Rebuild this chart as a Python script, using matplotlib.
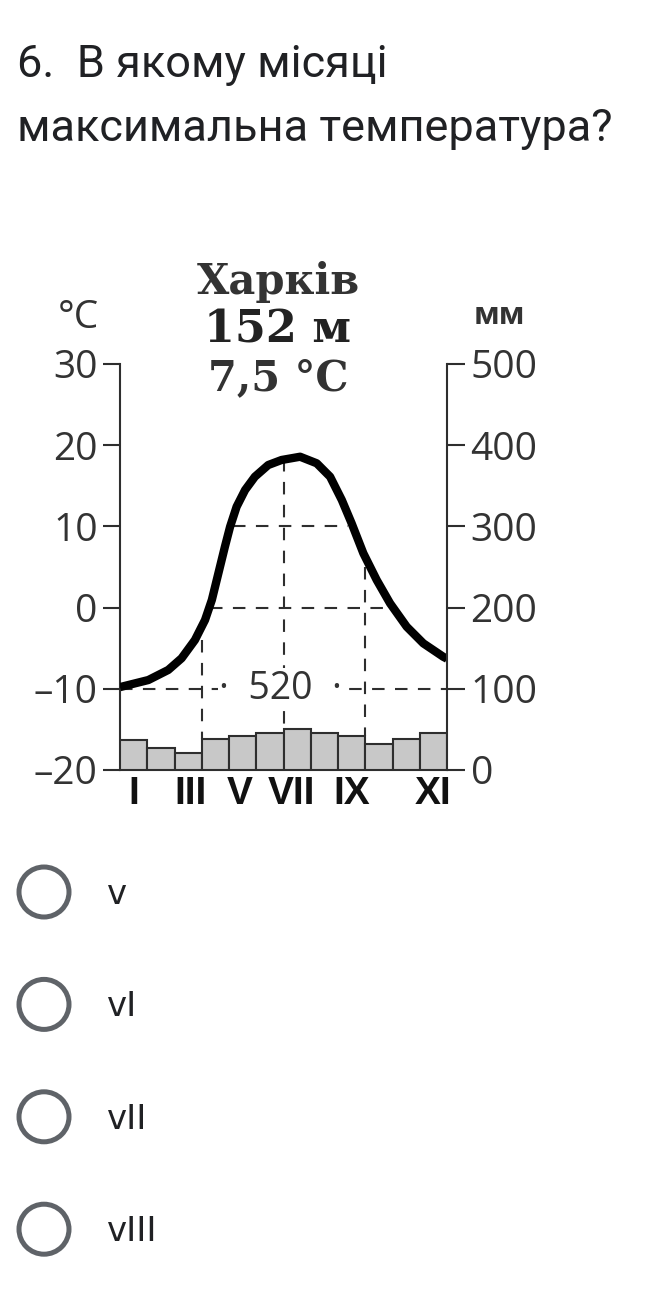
import matplotlib.pyplot as plt
from matplotlib.patches import Circle
import numpy as np

# monthly precipitation, mm
precip = [37, 27.5, 21, 38, 42, 45, 51, 45, 42, 32, 38, 45]

# temperature curve, points (x in months from start of Jan)
curve_month = [0.0, 0.06, 1.04, 1.77, 2.26, 2.75, 3.12, 3.37, 3.61, 3.85, 4.04,
               4.28, 4.59, 4.95, 5.44, 5.93, 6.61, 7.22, 7.71, 8.14, 8.50,
               8.93, 9.42, 9.91, 10.52, 11.13, 11.86, 12.0]
curve_temp = [-9.8, -9.74, -8.92, -7.68, -6.24, -3.99, -1.53, 0.94, 4.22, 7.5, 9.96,
              12.43, 14.48, 16.12, 17.56, 18.18, 18.58, 17.77, 16.12, 13.25, 10.38,
              6.69, 3.40, 0.53, -2.35, -4.40, -6.05, -6.3]

temp_ticks = [30, 20, 10, 0, -10, -20]
temp_labels = ['30', '20', '10', '0', '–10', '–20']
mm_ticks = [500, 400, 300, 200, 100, 0]
month_pos = [0.49, 2.6, 4.4, 6.3, 8.5, 11.5]
month_labels = ['I', 'III', 'V', 'VII', 'IX', 'XI']

station = 'Харків'
height_txt = '152 м'
mean_txt = '7,5 °C'
total_precip = '520'

question = ['6.  В якому місяці', 'максимальна температура?']
options = ['v', 'vI', 'vII', 'vIII']

plt.rcParams['font.family'] = ['Open Sans', 'DejaVu Sans']

W, H = 647, 1306
fig = plt.figure(figsize=(W / 100, H / 100), dpi=100)

# overlay in pixel coordinates for the page text
ov = fig.add_axes([0, 0, 1, 1])
ov.set_xlim(0, W)
ov.set_ylim(H, 0)
ov.axis('off')

ov.text(17, 77, question[0], fontsize=32.5, family='Roboto', color='#202124')
ov.text(17, 141, question[1], fontsize=32.5, family='Roboto', color='#202124')

for i, opt in enumerate(options):
    cy = 892 + i * 112.4
    ov.add_patch(Circle((44, cy), 25, fill=False, edgecolor='#5f6368', lw=3.6))
    ov.text(107, cy + 12, opt, fontsize=24.5, family='DejaVu Sans', color='#202124')

ov.text(278, 282, station, ha='center', va='center', fontsize=30,
        family='DejaVu Serif', fontweight='bold', color='#333333')
ov.text(278, 330, height_txt, ha='center', va='center', fontsize=32,
        family='DejaVu Serif', fontweight='bold', color='#222222')
ov.text(278, 378, mean_txt, ha='center', va='center', fontsize=30,
        family='DejaVu Serif', fontweight='bold', color='#333333')
ov.text(78, 318, '°C', ha='center', va='center', fontsize=28, color='#333333')
ov.text(499, 316, 'мм', ha='center', va='center', fontsize=22,
        fontweight='bold', color='#333333')

# climate chart
ax = fig.add_axes([120 / W, 1 - 770 / H, 327 / W, 406 / H])
ax.patch.set_alpha(0)
ax2 = ax.twinx()

dark = '#2e2e2e'
x = np.arange(12) + 0.5
ax2.bar(x, precip, width=1.0, color='#c8c8c8', edgecolor=dark, linewidth=1.5)

ax.plot(curve_month, curve_temp, color='black', lw=6,
        solid_capstyle='butt', solid_joinstyle='round', zorder=5)

dash = (0, (6, 5))
ax.plot([4.15, 8.37], [10, 10], color=dark, lw=1.5, ls=dash)
ax.plot([3.3, 9.7], [0, 0], color=dark, lw=1.5, ls=dash)
ax.plot([0, 12], [-10, -10], color=dark, lw=1.5, ls=dash)

guide_x = [3, 6, 9]
guide_top = [-4, 18.3, 5]
for gx, gt in zip(guide_x, guide_top):
    bottom = max(precip[gx - 1], precip[gx]) / 10 - 20
    ax.plot([gx, gx], [gt, bottom], color=dark, lw=1.5, ls=dash)

ax.text(5.9, -10, '·  ' + total_precip + '  ·', ha='center', va='center',
        fontsize=27, color='#333333', zorder=6,
        bbox=dict(fc='white', ec='none', pad=1))

ax.set_xlim(0, 12)
ax.set_ylim(-20, 30)
ax2.set_ylim(0, 500)

ax.set_yticks(temp_ticks, temp_labels)
ax2.set_yticks(mm_ticks, [str(v) for v in mm_ticks])
ax.set_xticks(month_pos, month_labels)

for s in ['top', 'right']:
    ax.spines[s].set_visible(False)
for s in ['top', 'left', 'bottom']:
    ax2.spines[s].set_visible(False)
ax.spines['left'].set_linewidth(1.5)
ax.spines['bottom'].set_linewidth(1.5)
ax2.spines['right'].set_linewidth(1.5)
for s in ax.spines.values():
    s.set_color(dark)
ax2.spines['right'].set_color(dark)

ax.tick_params(axis='y', direction='out', length=12, width=1.5, pad=4,
               labelsize=28, colors=dark, labelcolor='#333333')
ax2.tick_params(axis='y', direction='out', length=13, width=1.5, pad=4,
                labelsize=28, colors=dark, labelcolor='#333333')
ax.tick_params(axis='x', length=0, pad=4, labelsize=28, labelcolor='#111111')
for lab in ax.get_xticklabels():
    lab.set_family('Liberation Sans')
    lab.set_fontweight('bold')

fig.savefig('out.png', dpi=100)
